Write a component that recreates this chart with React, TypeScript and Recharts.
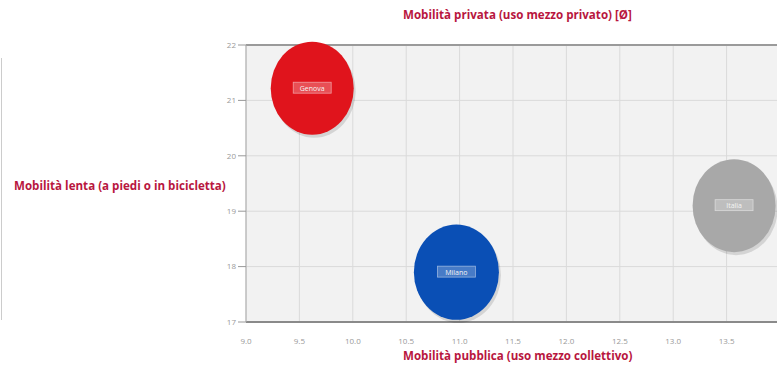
import { ScatterChart, Scatter, XAxis, YAxis, ZAxis, CartesianGrid, ReferenceLine } from "recharts";

const TITLE_COLOR = "#b8163e";

// bubble data (one point per city)
const cities = ["Genova", "Milano", "Italia"];
const colors = ["#e0141c", "#0a4fb5", "#a8a8a8"];
const pubblica = [9.62, 10.97, 13.57];
const lenta = [21.22, 17.9, 19.1];
const bubbleArea = [5410, 5680, 5410];

const xTicks = [9, 9.5, 10, 10.5, 11, 11.5, 12, 12.5, 13, 13.5];
const yTicks = [17, 18, 19, 20, 21, 22];

const Bubble = (props: any) => {
    const { cx, cy, width, fill, payload } = props;
    if (cx == null || cy == null) return null;
    const r = width / 2;
    const label = payload.name;
    const lw = label.length * 5 + 8;
    return (
        <g>
            <ellipse cx={cx + 2} cy={cy + 3} rx={r} ry={r * 1.12} fill="rgba(0,0,0,0.12)" />
            <ellipse cx={cx} cy={cy} rx={r} ry={r * 1.12} fill={fill} />
            <rect x={cx - lw / 2} y={cy - 6} width={lw} height={11} fill="rgba(255,255,255,0.25)" stroke="rgba(255,255,255,0.5)" strokeWidth={0.8} />
            <text x={cx} y={cy + 2.5} textAnchor="middle" fontSize={7} fill="#f4f4f4" fontFamily="'Open Sans', sans-serif">{label}</text>
        </g>
    );
};

function App() {
    const series = cities.map((name, i) => ({
        name,
        color: colors[i],
        data: [{ name, x: pubblica[i], y: lenta[i], z: bubbleArea[i] }],
    }));

    const titleStyle: React.CSSProperties = {
        position: "absolute",
        color: TITLE_COLOR,
        fontFamily: "'Open Sans', sans-serif",
        fontWeight: 700,
        fontSize: 11.6,
        whiteSpace: "nowrap",
        lineHeight: "14px",
    };

    return (
        <div style={{ position: "absolute", left: 0, top: 0, width: 777, height: 367, overflow: "hidden", background: "#fff" }}>
            <div style={{ position: "absolute", left: 1, top: 58, width: 1, height: 262, background: "#ccc" }} />
            <div style={{ ...titleStyle, left: 403, top: 8 }}>Mobilità privata (uso mezzo privato) [Ø]</div>
            <div style={{ ...titleStyle, left: 14, top: 179 }}>Mobilità lenta (a piedi o in bicicletta)</div>
            <div style={{ ...titleStyle, left: 403, top: 349 }}>Mobilità pubblica (uso mezzo collettivo)</div>
            <ScatterChart width={820} height={367} margin={{ top: 45, right: 40, bottom: 0, left: 212 }}>
                <CartesianGrid fill="#f2f2f2" stroke="#dadada" />
                <XAxis
                    type="number"
                    dataKey="x"
                    domain={[9, 14]}
                    ticks={xTicks}
                    tickFormatter={(v: number) => v.toFixed(1)}
                    axisLine={{ stroke: "#8a8a8a", strokeWidth: 2 }}
                    tickLine={false}
                    tick={{ fontSize: 8, fill: "#999", fontFamily: "'Open Sans', sans-serif" }}
                    height={45}
                    tickMargin={10}
                />
                <YAxis
                    type="number"
                    dataKey="y"
                    domain={[17, 22]}
                    ticks={yTicks}
                    axisLine={{ stroke: "#aaa" }}
                    tickLine={{ stroke: "#999" }}
                    tickSize={8}
                    tick={{ fontSize: 8, fill: "#999", fontFamily: "'Open Sans', sans-serif" }}
                    width={34}
                />
                <ZAxis type="number" dataKey="z" domain={[0, 6000]} range={[0, 6000]} />
                <ReferenceLine y={22} stroke="#9a9a9a" strokeWidth={2} />
                {series.map((s) => (
                    <Scatter key={s.name} name={s.name} data={s.data} fill={s.color} shape={Bubble} isAnimationActive={false} />
                ))}
            </ScatterChart>
        </div>
    );
}

export default App;
